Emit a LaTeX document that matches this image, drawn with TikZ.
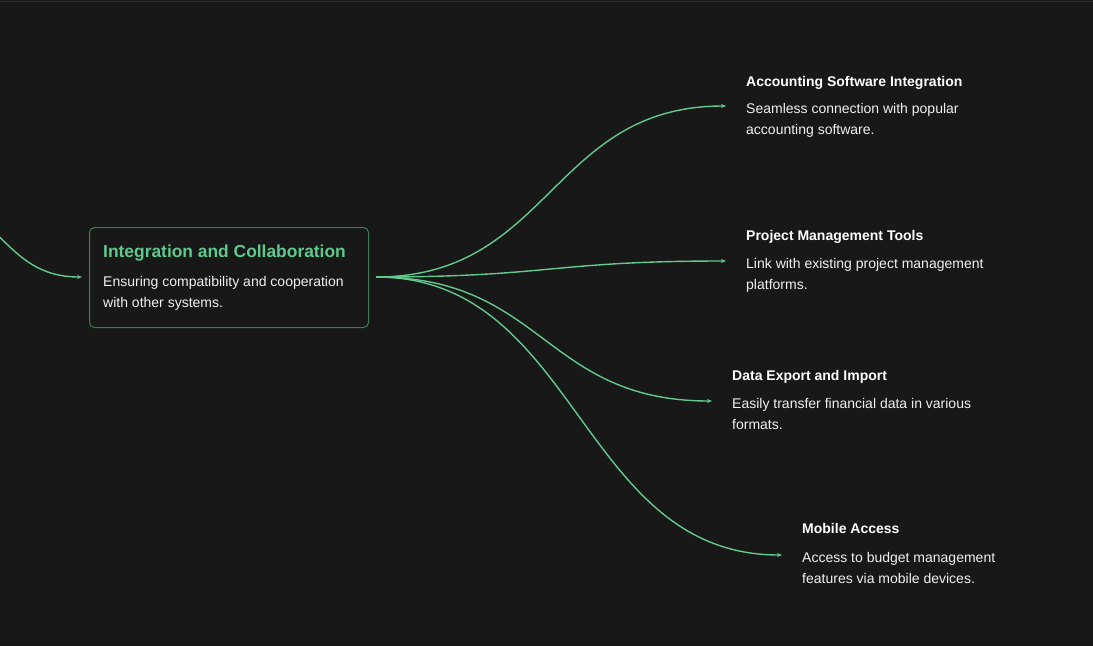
\documentclass[tikz,border=0pt]{standalone}
\usepackage{fontspec}
\setmainfont{Liberation Sans}
\usetikzlibrary{arrows.meta}
\definecolor{bgc}{HTML}{181818}
\definecolor{topline}{HTML}{2C2C2C}
\definecolor{edgec}{HTML}{62C98F}
\definecolor{boxborder}{HTML}{3F7A55}
\definecolor{titlegreen}{HTML}{5EC98C}
\definecolor{desctext}{HTML}{F0F0F0}
\tikzset{
  link/.style={draw=edgec, line width=1.4pt, -{Stealth[length=5pt,width=4pt]}},
  ttl/.style={anchor=base west, inner sep=0pt, text=white, font=\fontsize{14}{17}\selectfont\bfseries},
  dsc/.style={anchor=base west, inner sep=0pt, text=desctext, align=left, font=\fontsize{14}{21.5}\selectfont},
}
\begin{document}
\begin{tikzpicture}[x=1pt,y=-1pt]
\fill[bgc] (0,0) rectangle (1093,646);
\useasboundingbox (0,0) rectangle (1093,646);
\draw[topline, line width=1pt] (0,1) -- (1093,1);
% main box
\node[draw=boxborder, line width=1pt, rounded corners=5pt, minimum width=279pt, minimum height=100pt, anchor=north west, inner sep=0pt] (main) at (89,227) {};
\node[anchor=base west, inner sep=0pt, text=titlegreen, font=\fontsize{17.4}{20}\selectfont\bfseries] (maintitle) at (103,257) {Integration and Collaboration};
\node[dsc] (maindesc) at (103,307.5) {Ensuring compatibility and cooperation\\with other systems.};
% incoming
\coordinate (inS) at (-80,199);
\coordinate (inE) at (82,277);
\draw[link] (inS) .. controls (1,199) and (1,277) .. (inE);
% outgoing
\coordinate (src) at (376,277);
\coordinate (t1) at (726,106);
\coordinate (t2) at (726,261);
\coordinate (t3) at (712,401);
\coordinate (t4) at (782,555);
\draw[link] (src) .. controls (551,277) and (551,106) .. (t1);
\draw[link] (src) .. controls (551,277) and (551,261) .. (t2);
\draw[link] (src) .. controls (544,277) and (544,401) .. (t3);
\draw[link] (src) .. controls (579,277) and (579,555) .. (t4);
% leaves
\node[ttl] (l1t) at (746,86) {Accounting Software Integration};
\node[dsc] (l1d) at (746,134.5) {Seamless connection with popular\\accounting software.};
\node[ttl] (l2t) at (746,240) {Project Management Tools};
\node[dsc] (l2d) at (746,289.5) {Link with existing project management\\platforms.};
\node[ttl] (l3t) at (732,380) {Data Export and Import};
\node[dsc] (l3d) at (732,429.5) {Easily transfer financial data in various\\formats.};
\node[ttl] (l4t) at (802,533) {Mobile Access};
\node[dsc] (l4d) at (802,583.5) {Access to budget management\\features via mobile devices.};
\end{tikzpicture}
\end{document}
